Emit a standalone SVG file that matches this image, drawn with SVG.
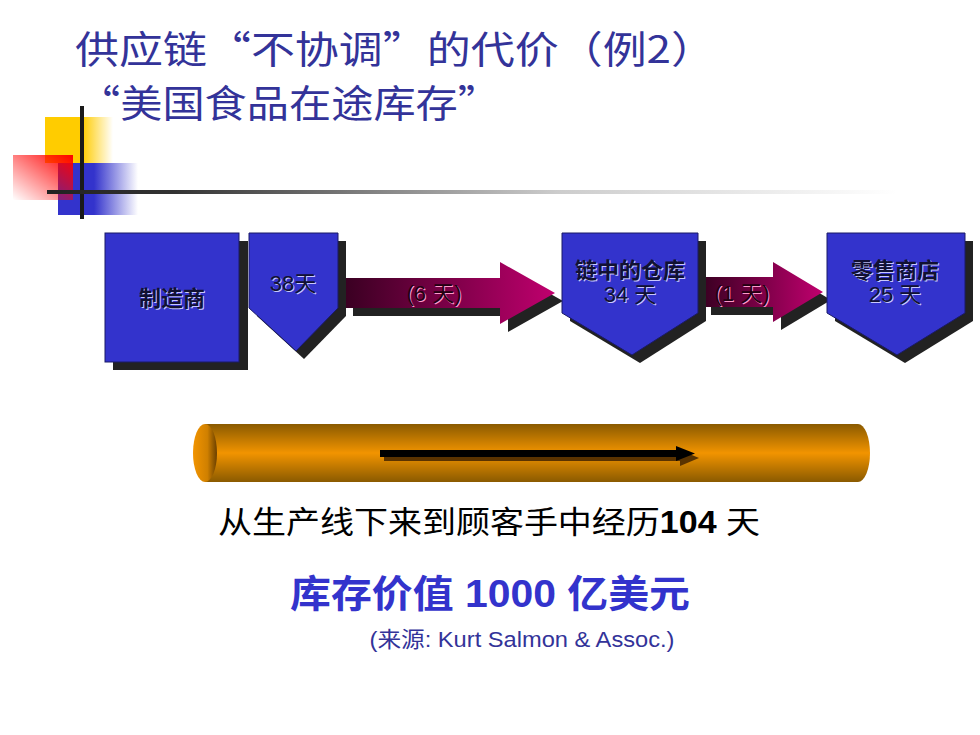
<svg xmlns="http://www.w3.org/2000/svg" width="980" height="735" viewBox="0 0 980 735">
<defs>
<linearGradient id="gYel" x1="0" y1="0" x2="1" y2="0"><stop offset="0" stop-color="#ffcc00"/><stop offset="0.55" stop-color="#ffcc00"/><stop offset="1" stop-color="#ffcc00" stop-opacity="0"/></linearGradient>
<linearGradient id="gBlue" x1="0" y1="0" x2="1" y2="0"><stop offset="0" stop-color="#3333cc"/><stop offset="0.45" stop-color="#3333cc"/><stop offset="1" stop-color="#3333cc" stop-opacity="0"/></linearGradient>
<linearGradient id="gRed" x1="1" y1="0" x2="0" y2="1"><stop offset="0" stop-color="#ff0000"/><stop offset="1" stop-color="#ff0000" stop-opacity="0"/></linearGradient>
<linearGradient id="gLine" x1="0" y1="0" x2="1" y2="0"><stop offset="0" stop-color="#222"/><stop offset="0.15" stop-color="#333"/><stop offset="0.6" stop-color="#ccc"/><stop offset="1" stop-color="#fff"/></linearGradient>
<linearGradient id="gArrow" x1="0" y1="0" x2="1" y2="0"><stop offset="0" stop-color="#3a0022"/><stop offset="1" stop-color="#c0006e"/></linearGradient>
<linearGradient id="gCyl" x1="0" y1="0" x2="0" y2="1"><stop offset="0" stop-color="#8a5a00"/><stop offset="0.5" stop-color="#f29400"/><stop offset="1" stop-color="#8a5a00"/></linearGradient>
<linearGradient id="gCap" x1="0" y1="0" x2="1" y2="0"><stop offset="0" stop-color="#f29400"/><stop offset="0.6" stop-color="#d08000"/><stop offset="1" stop-color="#6a4000"/></linearGradient>
<style>
.title{font-family:"Noto Sans CJK SC","Liberation Serif",serif;font-size:38px;fill:#333399;}
.box{fill:#3333cc;stroke:#1a1a66;stroke-width:1;}
.shadow{fill:#222;}
.lbl{font-family:"Liberation Sans","Noto Sans CJK SC",sans-serif;font-size:22px;text-anchor:middle;fill:#111133;}
.lblb{font-weight:bold;}
.glow{fill:#c8c8ff;}
.main{font-family:"Liberation Sans","Noto Sans CJK SC",sans-serif;text-anchor:middle;}
</style>
</defs>

<g id="decoration">
<rect x="45" y="117" width="68" height="46" fill="url(#gYel)"/>
<rect x="58" y="163" width="80" height="52" fill="url(#gBlue)"/>
<rect x="13" y="155" width="60" height="45" fill="url(#gRed)"/>
<rect x="80" y="106" width="4" height="113" fill="#1a1a1a"/>
<rect x="47" y="190" width="850" height="4" fill="url(#gLine)"/>
</g>

<g id="title">
<text class="title" x="75" y="63" textLength="640" lengthAdjust="spacingAndGlyphs">供应链“不协调”的代价（例2）</text>
<text class="title" x="78" y="117" textLength="422" lengthAdjust="spacingAndGlyphs">“美国食品在途库存”</text>
</g>

<g id="connectors">
<g id="arrow1">
<polygon class="shadow" points="353,286 508,286 508,270 563,301 508,332 508,316 353,316"/>
<polygon fill="url(#gArrow)" points="345,278 500,278 500,262 555,293 500,324 500,308 345,308"/>
<text class="lbl" x="434" y="301" style="fill:#ff99cc" dx="1" dy="1">(6 天)</text>
<text class="lbl" x="434" y="301" style="fill:#220011">(6 天)</text>
</g>
<g id="arrow2">
<polygon class="shadow" points="711,285 781,285 781,270 831,300 781,330 781,315 711,315"/>
<polygon fill="url(#gArrow)" points="703,277 773,277 773,262 823,292 773,322 773,307 703,307"/>
<text class="lbl" x="742" y="301" style="fill:#ff99cc" dx="1" dy="1">(1 天)</text>
<text class="lbl" x="742" y="301" style="fill:#220011">(1 天)</text>
</g>
</g>

<g id="node-manufacturer">
<rect class="shadow" x="113" y="241" width="135" height="129"/>
<rect class="box" x="105" y="233" width="134" height="129"/>
<text class="lbl lblb glow" x="172" y="306" dx="1" dy="1">制造商</text>
<text class="lbl lblb" x="172" y="306">制造商</text>
</g>

<g id="node-38">
<polygon class="shadow" points="257,241 346,241 346,316 304,359 257,316"/>
<polygon class="box" points="249,233 338,233 338,308 296,351 249,308"/>
<text class="lbl glow" x="293" y="291" dx="1" dy="1">38天</text>
<text class="lbl" x="293" y="291">38天</text>
</g>

<g id="node-warehouse">
<polygon class="shadow" points="570,241 706,241 706,321 640,363 570,321"/>
<polygon class="box" points="562,233 698,233 698,313 632,355 562,313"/>
<text class="lbl lblb glow" x="630" y="278" dx="1" dy="1">链中的仓库</text>
<text class="lbl lblb" x="630" y="278">链中的仓库</text>
<text class="lbl glow" x="630" y="302" dx="1" dy="1">34 天</text>
<text class="lbl" x="630" y="302">34 天</text>
</g>

<g id="node-retail">
<polygon class="shadow" points="835,241 973,241 973,321 905,363 835,321"/>
<polygon class="box" points="827,233 965,233 965,313 897,355 827,313"/>
<text class="lbl lblb glow" x="895" y="278" dx="1" dy="1">零售商店</text>
<text class="lbl lblb" x="895" y="278">零售商店</text>
<text class="lbl glow" x="895" y="302" dx="1" dy="1">25 天</text>
<text class="lbl" x="895" y="302">25 天</text>
</g>

<g id="pipeline">
<path d="M205,424 L858,424 A12,29 0 0 1 858,482 L205,482 Z" fill="url(#gCyl)"/>
<ellipse cx="205" cy="453" rx="12" ry="29" fill="url(#gCap)"/>
<g id="pipe-arrow">
<rect x="384" y="454" width="296" height="7" fill="#5a3300"/>
<polygon points="680,450 699,458 680,466" fill="#5a3300"/>
<rect x="380" y="450" width="298" height="7" fill="#000"/>
<polygon points="676,446 695,453.5 676,461" fill="#000"/>
</g>
</g>

<g id="texts">
<text class="main" x="489" y="533" font-size="31" fill="#000" textLength="542" lengthAdjust="spacingAndGlyphs"><tspan font-family="Noto Sans CJK SC,sans-serif">从生产线下来到顾客手中经历</tspan><tspan font-weight="bold">104</tspan> 天</text>
<text class="main" x="490" y="607" font-size="38" font-weight="bold" fill="#3333cc" textLength="400" lengthAdjust="spacingAndGlyphs">库存价值 1000 亿美元</text>
<text class="main" x="522" y="647" font-size="22" fill="#333399" textLength="305" lengthAdjust="spacingAndGlyphs">(来源: Kurt Salmon &amp; Assoc.)</text>
</g>
</svg>
